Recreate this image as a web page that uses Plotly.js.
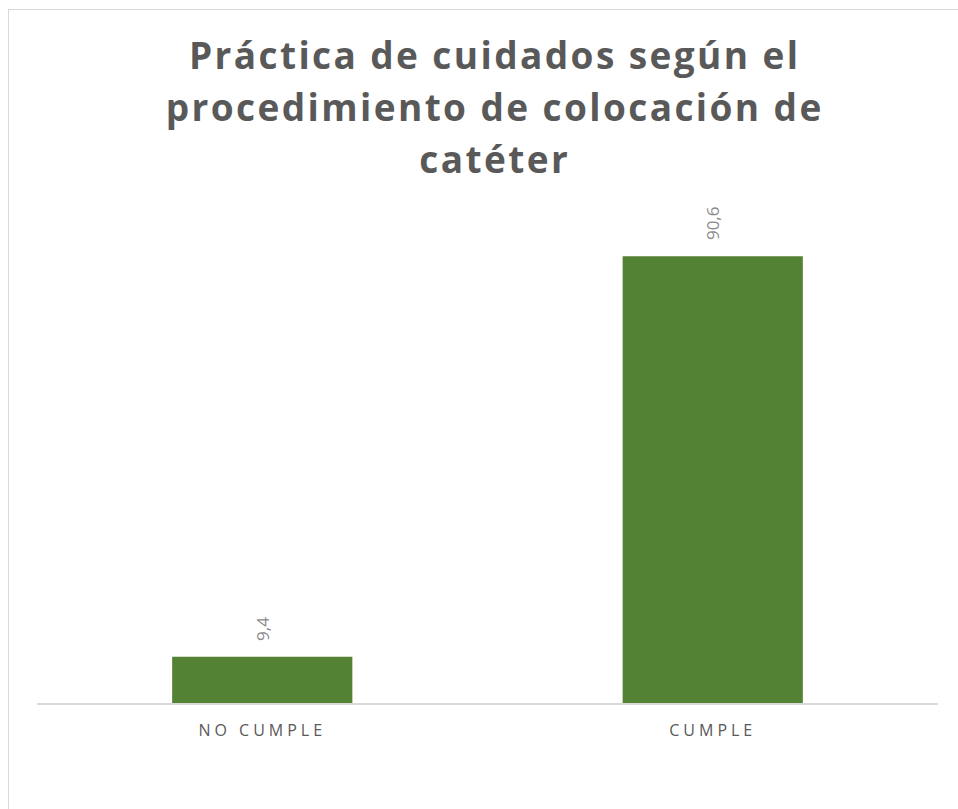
<!DOCTYPE html>
<html>
<head>
<meta charset="utf-8">
<script src="https://cdn.plot.ly/plotly-3.0.1.min.js"></script>
<style>
html, body { margin:0; padding:0; background:#fff; overflow:hidden; }
#wrap { position:relative; width:958px; height:809px; }
#chart { position:absolute; left:0; top:0; width:958px; height:809px; }
#frame { position:absolute; left:8px; top:9px; width:980px; height:830px; border-left:1px solid #d9d9d9; border-top:1px solid #d9d9d9; pointer-events:none; }
.gtitle { letter-spacing: 2.4px; }
.xtick text { letter-spacing: 4px; }
</style>
</head>
<body>
<div id="wrap">
<div id="chart"></div>
<div id="frame"></div>
</div>
<script>
const categories = ["NO CUMPLE", "CUMPLE"];
const values = [9.4, 90.6];
const valueLabels = ["9,4", "90,6"];
const titleText = "Práctica de cuidados según el<br>procedimiento de colocación de<br>catéter";

const trace = {
  type: "bar",
  x: categories,
  y: values,
  marker: { color: "#548235" },
  width: 0.4,
  hoverinfo: "none"
};

const annotations = categories.map((c, i) => ({
  x: c, y: values[i], xref: "x", yref: "y",
  text: valueLabels[i],
  showarrow: false,
  textangle: -90,
  yanchor: "bottom",
  xanchor: "center",
  yshift: 14,
  font: { family: "Open Sans, sans-serif", size: 17, color: "#8a8a8a" }
}));

const layout = {
  width: 958, height: 809,
  paper_bgcolor: "#ffffff", plot_bgcolor: "#ffffff",
  margin: { l: 37, r: 20, t: 210, b: 106 },
  showlegend: false,
  title: {
    text: titleText,
    x: 0.508, xref: "paper", xanchor: "center",
    y: 1 - 69/809, yref: "container", yanchor: "top",
    font: { family: "Open Sans, sans-serif", size: 37, color: "#595959", weight: "bold" }
  },
  xaxis: {
    type: "category",
    showline: true, linecolor: "#d9d9d9", linewidth: 1.5,
    showgrid: false, zeroline: false, ticks: "",
    tickfont: { family: "Open Sans, sans-serif", size: 16, color: "#595959" },
    ticklabelstandoff: 12
  },
  yaxis: {
    range: [0, 100],
    visible: false, showgrid: false, zeroline: false
  },
  annotations: annotations,
  bargap: 0.6
};

Plotly.newPlot("chart", [trace], layout, { staticPlot: true, displayModeBar: false }).then(gd => {
  // widen the title's line spacing to match the reference
  const lines = gd.querySelectorAll(".gtitle tspan.line");
  if (!lines.length) return;
  const d0 = parseFloat(lines[0].getAttribute("dy") || "0");
  lines.forEach((t, i) => {
    if (i === 0) return;
    const di = parseFloat(t.getAttribute("dy") || "0");
    t.setAttribute("dy", (d0 + (di - d0) * 1.41 / 1.3) + "em");
  });
});
</script>
</body>
</html>
